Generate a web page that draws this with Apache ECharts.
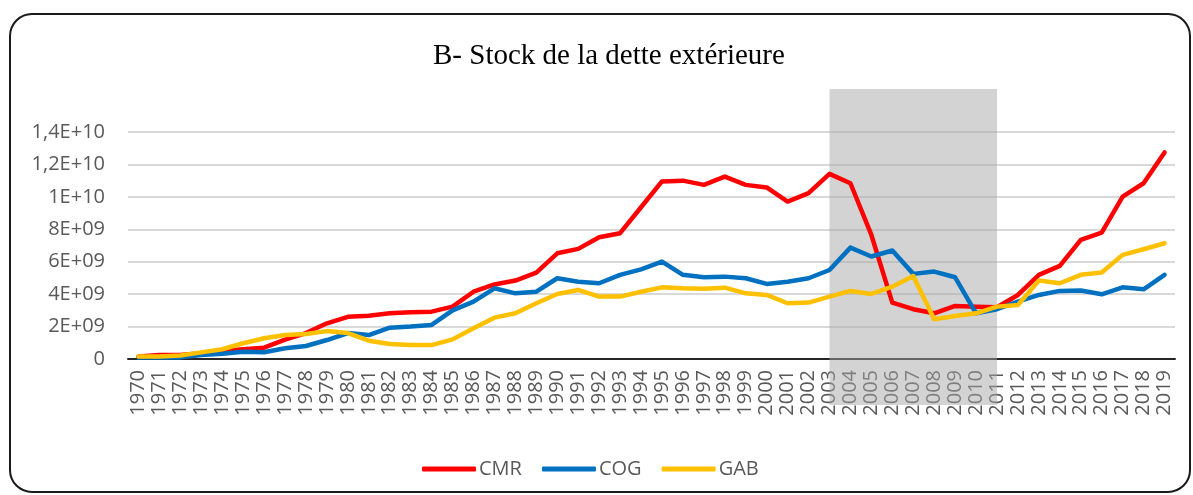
<!DOCTYPE html>
<html>
<head>
<meta charset="utf-8">
<script src="https://cdn.jsdelivr.net/npm/echarts@6/dist/echarts.min.js"></script>
<style>
  html, body { margin: 0; padding: 0; background: #fff; }
  #chart { width: 1193px; height: 495px; }
</style>
</head>
<body>
<div id="chart"></div>
<script>
const years = ['1970','1971','1972','1973','1974','1975','1976','1977','1978','1979',
  '1980','1981','1982','1983','1984','1985','1986','1987','1988','1989',
  '1990','1991','1992','1993','1994','1995','1996','1997','1998','1999',
  '2000','2001','2002','2003','2004','2005','2006','2007','2008','2009',
  '2010','2011','2012','2013','2014','2015','2016','2017','2018','2019'];

// debt stock, billions (E+09)
const cmr = [0.15,0.25,0.25,0.35,0.5,0.6,0.7,1.2,1.6,2.2,
  2.6,2.67,2.82,2.88,2.92,3.23,4.15,4.6,4.84,5.33,
  6.52,6.79,7.51,7.76,9.36,10.95,11.0,10.74,11.25,10.74,
  10.58,9.71,10.23,11.42,10.84,7.65,3.48,3.07,2.82,3.27,
  3.23,3.19,3.95,5.19,5.74,7.35,7.8,10.02,10.84,12.74];
const cog = [0.1,0.1,0.1,0.25,0.33,0.45,0.42,0.66,0.8,1.17,
  1.6,1.48,1.93,2.0,2.1,3.0,3.54,4.36,4.05,4.15,
  4.98,4.77,4.67,5.19,5.53,6.01,5.19,5.04,5.08,4.98,
  4.63,4.77,4.98,5.49,6.87,6.32,6.69,5.25,5.39,5.04,
  2.82,3.07,3.54,3.95,4.2,4.22,3.99,4.42,4.3,5.19];
const gab = [0.15,0.15,0.22,0.41,0.6,0.97,1.28,1.48,1.54,1.72,
  1.6,1.13,0.93,0.86,0.86,1.21,1.89,2.55,2.82,3.44,
  4.01,4.26,3.85,3.85,4.15,4.42,4.36,4.34,4.4,4.05,
  3.95,3.44,3.48,3.85,4.2,4.01,4.46,5.12,2.45,2.65,
  2.82,3.23,3.33,4.84,4.67,5.19,5.33,6.42,6.77,7.14];

const shadeFrom = '2003';
const shadeTo = '2011';

// Excel style scientific labels: 1,4E+10
function sci(v) {
  if (v === 0) return '0';
  const n = v * 1e9;
  const e = Math.floor(Math.log10(n) + 1e-9);
  let m = Math.round(n / Math.pow(10, e) * 10) / 10;
  const exp = (e < 10 ? '0' : '') + e;
  return String(m).replace('.', ',') + 'E+' + exp;
}

const chart = echarts.init(document.getElementById('chart'));

function lineSeries(name, data, color) {
  return {
    name: name,
    type: 'line',
    data: data,
    symbol: 'none',
    lineStyle: { color: color, width: 4.5, cap: 'round', join: 'round' },
    itemStyle: { color: color },
    z: 3
  };
}

chart.setOption({
  animation: false,
  title: {
    text: 'B- Stock de la dette extérieure',
    left: 428,
    top: 37,
    textStyle: {
      fontFamily: 'Liberation Serif',
      fontSize: 29,
      fontWeight: 'normal',
      color: '#000'
    }
  },
  legend: {
    data: ['CMR', 'COG', 'GAB'],
    left: 417,
    top: 454,
    icon: 'roundRect',
    itemWidth: 54,
    itemHeight: 5,
    itemGap: 20,
    textStyle: { fontFamily: 'Open Sans', fontSize: 20, color: '#595959', padding: [0, 0, 0, -2] }
  },
  grid: { left: 128, right: 18, top: 132, bottom: 136 },
  xAxis: {
    type: 'category',
    data: years,
    boundaryGap: true,
    axisLine: { lineStyle: { color: '#262626', width: 2 } },
    axisTick: { show: false },
    axisLabel: {
      interval: 0,
      rotate: 90,
      margin: 11,
      fontFamily: 'Open Sans',
      fontSize: 20,
      color: '#595959'
    }
  },
  yAxis: {
    type: 'value',
    min: 0,
    max: 14,
    interval: 2,
    axisLine: { show: false },
    axisTick: { show: false },
    splitLine: { lineStyle: { color: '#d9d9d9', width: 2 } },
    axisLabel: {
      formatter: sci,
      margin: 23,
      fontFamily: 'Open Sans',
      fontSize: 20,
      color: '#595959'
    }
  },
  graphic: [{
    type: 'rect',
    shape: { x: 10, y: 14, width: 1180, height: 478, r: 22 },
    style: { fill: 'none', stroke: '#1a1a1a', lineWidth: 2 },
    silent: true,
    z: 0
  }],
  series: [
    lineSeries('CMR', cmr, '#ff0000'),
    lineSeries('COG', cog, '#0070c0'),
    lineSeries('GAB', gab, '#ffc000'),
    {
      name: 'shade',
      type: 'line',
      data: [],
      clip: false,
      z: 10,
      silent: true,
      markArea: {
        silent: true,
        itemStyle: { color: 'rgba(165,165,165,0.49)' },
        data: [[{ xAxis: shadeFrom, y: 89 }, { xAxis: shadeTo, y: 405 }]]
      }
    }
  ]
});
</script>
</body>
</html>
